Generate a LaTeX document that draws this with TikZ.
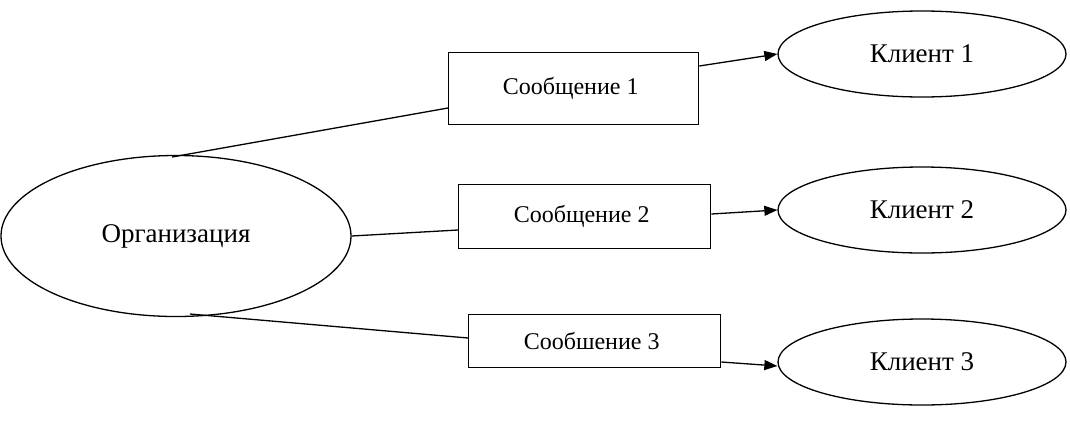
\documentclass[tikz,border=0pt]{standalone}
\usepackage{fontspec}
\setmainfont{Liberation Serif}
\usetikzlibrary{arrows.meta,shapes.geometric}
\begin{document}
\begin{tikzpicture}[x=1pt,y=-1pt,line width=1.3pt,
  ell/.style={draw,ellipse,minimum width=288pt,minimum height=86pt,font=\fontsize{27}{30}\selectfont,inner sep=0pt},
  msg/.style={draw,rectangle,inner sep=0pt,anchor=north west,font=\fontsize{24}{28}\selectfont},
  arr/.style={-{Triangle[length=13pt,width=10pt]}}]
\useasboundingbox (0,0) rectangle (1070,421);
\node[ell,minimum width=350pt,minimum height=161pt] (org) at (176,236) {Организация};
\node[ell] (k1) at (922,54) {Клиент 1};
\node[ell] (k2) at (922,210) {Клиент 2};
\node[ell] (k3) at (922,362) {Клиент 3};
\node[msg,minimum width=250pt,minimum height=72pt] (m1) at (448,52) {\hspace*{-6pt}Сообщение 1};
\node[msg,minimum width=252pt,minimum height=64pt] (m2) at (458,184) {\hspace*{-6pt}Сообщение 2};
\node[msg,minimum width=252pt,minimum height=53pt] (m3) at (468,314) {\hspace*{-6pt}Сообшение 3};
\coordinate (o1) at (172,157);
\coordinate (o3) at (190,314);
\draw (o1) -- (m1.west |- 0,108);
\draw[arr] (m1.east |- 0,66) -- (k1.west);
\draw (org.east) -- (m2.west |- 0,230);
\draw[arr] (m2.east |- 0,214) -- (k2.west);
\draw (o3) -- (m3.west |- 0,338);
\draw[arr] (m3.east |- 0,362) -- (k3.west |- 0,366);
\end{tikzpicture}
\end{document}
